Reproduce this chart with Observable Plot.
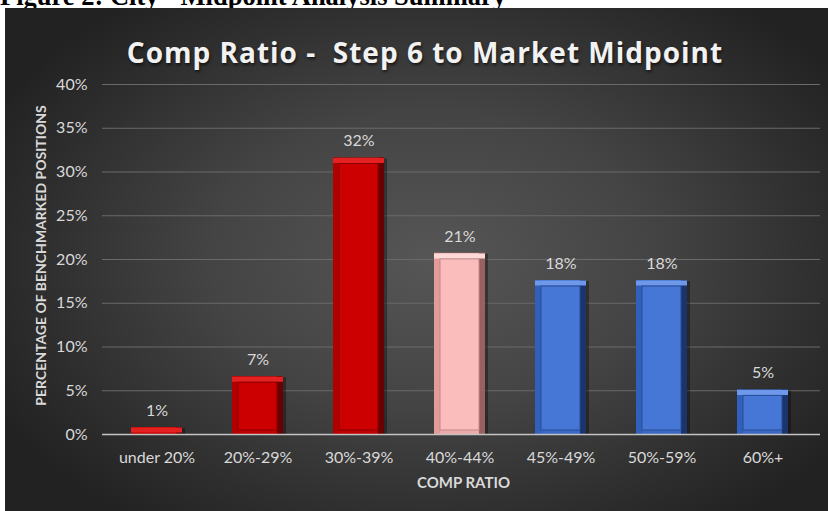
<!DOCTYPE html>
<html>
<head>
<meta charset="utf-8">
<script src="https://cdn.jsdelivr.net/npm/d3@7"></script>
<script src="https://cdn.jsdelivr.net/npm/@observablehq/plot@0.6"></script>
<style>
  html, body { margin: 0; padding: 0; background: #ffffff; width: 828px; height: 511px; overflow: hidden; }
  #caption { position: absolute; left: 0; top: -17px; font: bold 26.5px/26.5px "Liberation Serif", serif; color: #000; white-space: nowrap; }
  #panel { position: absolute; left: 5px; top: 8px; width: 823px; height: 503px;
    background: radial-gradient(ellipse 60% 65% at 52% 50%, #565656 0%, #444 45%, #2e2e2e 80%, #222 100%); overflow: hidden; }
  #title { position: absolute; left: 0; width: 840px; top: 25px; text-align: center; font: bold 28px "Open Sans", sans-serif;
    color: #f2f2f2; letter-spacing: 1px; text-shadow: 1px 2px 3px rgba(0,0,0,0.6); white-space: nowrap; }
  #chart { position: absolute; left: 0; top: 0; }
</style>
</head>
<body>
<div id="caption">Figure 2: City - Midpoint Analysis Summary</div>
<div id="panel">
  <div id="chart"></div>
  <div id="title">Comp Ratio -&nbsp; Step 6 to Market Midpoint</div>
</div>
<script>
const categories = ["under 20%", "20%-29%", "30%-39%", "40%-44%", "45%-49%", "50%-59%", "60%+"];
const values = [0.8, 6.6, 31.6, 20.7, 17.6, 17.6, 5.1];
const groups = ["below", "below", "below", "near", "above", "above", "above"];
const yTicks = [0, 5, 10, 15, 20, 25, 30, 35, 40];
const yTitle = "PERCENTAGE OF BENCHMARKED POSITIONS";
const xTitle = "COMP RATIO";

const data = categories.map((c, i) => ({cat: c, v: values[i], g: groups[i]}));

const pal = {
  below: {face: "#c00000", top: "#e42020", left: "#b20000", right: "#6a0000", inner: "#cc0000", innerStroke: "#8a0000"},
  near:  {face: "#eeaaaa", top: "#ffd8d8", left: "#e29a9a", right: "#9a6060", inner: "#fbbcbc", innerStroke: "#c08a8a"},
  above: {face: "#3a68c4", top: "#6e98ea", left: "#3060bb", right: "#1c346c", inner: "#4677d6", innerStroke: "#284c94"}
};

const chart = Plot.plot({
  width: 823,
  height: 503,
  marginLeft: 97,
  marginRight: 8,
  marginTop: 76,
  marginBottom: 77,
  style: {background: "transparent", fontFamily: "Lato, sans-serif", fontSize: "16px", color: "#d9d9d9"},
  x: {domain: categories, range: [99, 810], paddingInner: 0.5, paddingOuter: 0.25},
  y: {domain: [0, 40]},
  marks: [
    Plot.ruleY(yTicks.filter(t => t > 0), {stroke: "#6a6a6a", strokeWidth: 1}),
    Plot.axisY({ticks: yTicks, tickSize: 0, tickPadding: 15, tickFormat: d => d + "%", fill: "#d9d9d9", fontSize: 16, label: null}),
    Plot.axisX({tickSize: 0, tickPadding: 17, fill: "#d9d9d9", fontSize: 16, label: null}),
    Plot.barY(data, {x: "cat", y: "v", fill: "rgba(0,0,0,0.35)", dx: 3, dy: 1}),
    Plot.barY(data, {x: "cat", y: "v", fill: d => pal[d.g].face}),
    Plot.barY(data, {x: "cat", y: "v", fill: d => pal[d.g].left, insetRight: 45}),
    Plot.barY(data, {x: "cat", y: "v", fill: d => pal[d.g].right, insetLeft: 45}),
    Plot.tickY(data, {x: "cat", y: "v", stroke: d => pal[d.g].top, strokeWidth: 5, dy: 2.5}),
    Plot.barY(data, {x: "cat", y: "v", fill: d => pal[d.g].inner, stroke: d => pal[d.g].innerStroke, strokeWidth: 1,
      insetLeft: 6, insetRight: 6, insetTop: 6, insetBottom: 4}),
    Plot.ruleY([0], {stroke: "#c4c4c4", strokeWidth: 1.5}),
    Plot.text(data, {x: "cat", y: "v", text: d => Math.round(d.v) + "%", dy: -17, fill: "#d9d9d9", fontSize: 16}),
    Plot.text([yTitle], {frameAnchor: "left", textAnchor: "middle", dx: -61, dy: -4, rotate: -90, fontWeight: "bold", fontSize: 14, fill: "#d9d9d9"}),
    Plot.text([xTitle], {frameAnchor: "bottom", dx: 2, dy: 53, fontWeight: "bold", fontSize: 15, fill: "#d9d9d9"})
  ]
});
document.getElementById("chart").appendChild(chart);
</script>
</body>
</html>
